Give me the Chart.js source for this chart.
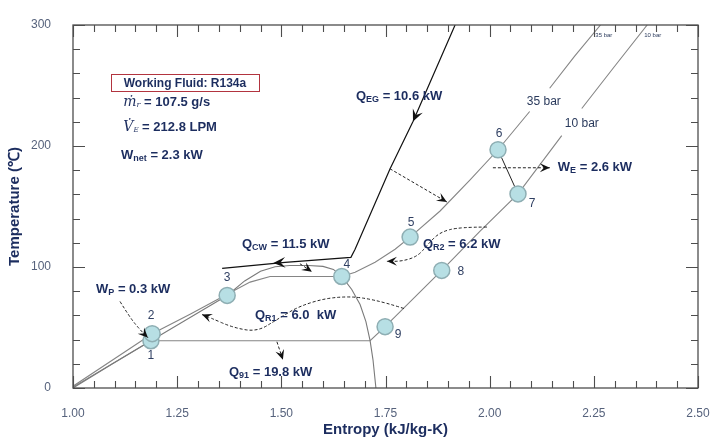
<!DOCTYPE html>
<html>
<head>
<meta charset="utf-8">
<script src="https://cdn.jsdelivr.net/npm/chart.js@4.4.0/dist/chart.umd.min.js"></script>
<style>
html, body { margin: 0; background: #fff; }
#wrap { width: 724px; height: 446px; }
</style>
</head>
<body>
<div id="wrap"><canvas id="chart"></canvas></div>
<script>
'use strict';

// saturation dome (entropy kJ/kg-K, temperature C)
const domeS = [1.000, 1.094, 1.187, 1.281, 1.370, 1.412, 1.450, 1.485, 1.520, 1.565, 1.600, 1.625, 1.645, 1.669, 1.689, 1.703, 1.713, 1.720, 1.727];
const domeT = [0, 19.9, 39.1, 58.2, 76.5, 88.5, 96.5, 100.2, 101.2, 101.3, 100.5, 98.0, 92.2, 81.4, 69.0, 54.8, 39.1, 23.3, 0];

// 35 bar isobar (null = gap for the label)
const p35S = [1.000, 1.190, 1.281, 1.370, 1.425, 1.473, 1.645, 1.677, 1.725, 1.773, 1.809, 1.881, 1.953, 2.020, 2.096, 2.120, 2.144, 2.204, 2.266];
const p35T = [1.5, 44.9, 61.0, 77.5, 87.5, 92.2, 92.2, 95.6, 103.9, 114.7, 124.7, 146.3, 172.0, 196.9, 228.5, null, 247.7, 274.2, 300];

// 10 bar isobar
const p10S = [1.000, 1.187, 1.713, 1.749, 1.885, 1.977, 2.068, 2.173, 2.197, 2.221, 2.300, 2.378];
const p10T = [0.8, 39.1, 39.1, 50.7, 97.2, 129.6, 160.4, 208.6, null, 231.0, 265.9, 300];

// heat source (exhaust gas) and cooling water line
const hotS = [1.917, 1.816, 1.761, 1.677, 1.667, 1.509, 1.358];
const hotT = [300, 220.2, 181.2, 114.7, 108.0, 103.9, 98.9];

// cycle state points
const stateNames = ['1', '2', '3', '4', '5', '6', '7', '8', '9'];
const stateS = [1.187, 1.190, 1.370, 1.645, 1.809, 2.020, 2.068, 1.885, 1.749];
const stateT = [39.1, 44.9, 76.5, 92.2, 124.7, 196.9, 160.4, 97.2, 50.7];

// axis tick labels
const xTickLabels = ['1.00', '1.25', '1.50', '1.75', '2.00', '2.25', '2.50'];
const yTickLabels = ['0', '100', '200', '300'];

const FONT = '"Liberation Sans", Arial, Helvetica, sans-serif';
const NAVY = '#1c2d5f';
const B13 = 'bold 13px ' + FONT;
const S9 = 'bold 9px ' + FONT;

function pts(xs, ys) {
    return xs.map((x, i) => ({x: x, y: ys[i]}));
}

// offsets (px) of the state numbers from their circles
const stateLabelOff = [[0, 15], [-1, -18], [0, -18], [5, -12], [1, -14], [1, -16], [14, 10], [19, 1], [13, 8]];

// dashed heat-flow arrows, in data units
const flows = [
    {s: [1.7606, 1.8973], t: [181.2, 153.7]},
    {s: [2.0077, 2.1444], t: [182, 182]},
    {s: [1.9933, 1.9285, 1.8805, 1.8517, 1.8277, 1.7894, 1.7534], t: [133, 133, 128.8, 118.8, 108.9, 104.7, 104.7]},
    {s: [1.7942, 1.7126, 1.6238, 1.5446, 1.4894, 1.4415, 1.3839, 1.3287, 1.3095], t: [65.7, 74.8, 75.6, 68.1, 56.5, 46.5, 49.9, 58.2, 60.7]},
    {s: [1.1128, 1.1368, 1.1607, 1.1799], t: [71.5, 58.2, 48.2, 41.6]},
    {s: [1.4894, 1.5038], t: [38.2, 23.3]},
    {s: [1.5446, 1.5734], t: [102.7, 96.1]},
];

// labels: [s, T, parts]
const labels = [
    [1.679, 241, [['Q', B13], ['EG', S9, 3], [' = 10.6 kW', B13]]],
    [2.1636, 182, [['W', B13], ['E', S9, 3], [' = 2.6 kW', B13]]],
    [1.8397, 118.8, [['Q', B13], ['R2', S9, 3], [' = 6.2 kW', B13]]],
    [1.4055, 118.8, [['Q', B13], ['CW', S9, 3], [' = 11.5 kW', B13]]],
    [1.4367, 59.8, [['Q', B13], ['R1', S9, 3], [' = 6.0  kW', B13]]],
    [1.3743, 12.5, [['Q', B13], ['91', S9, 3], [' = 19.8 kW', B13]]],
    [1.0552, 81.4, [['W', B13], ['P', S9, 3], [' = 0.3 kW', B13]]],
    [1.1207, 236.1, [['\u1E41', 'italic 14px "DejaVu Serif", serif'], ['r', 'italic 8px "DejaVu Serif", serif', 3], [' = 107.5 g/s', B13]]],
    [1.1207, 215.2, [['V\u0307', 'italic 14px "DejaVu Serif", serif'], ['E', 'italic 7px "DejaVu Serif", serif', 3], [' = 212.8 LPM', B13]]],
    [1.1152, 192, [['W', B13], ['net', S9, 3], [' = 2.3 kW', B13]]],
];

function richText(c, x, y, parts) {
    let cx = x;
    parts.forEach(p => {
        c.font = p[1];
        c.fillText(p[0], cx, y + (p[2] || 0));
        cx += c.measureText(p[0]).width;
    });
}

function arrowHead(c, x, y, fx, fy, size) {
    const a = Math.atan2(y - fy, x - fx);
    const cs = Math.cos(a), sn = Math.sin(a);
    c.save();
    c.setLineDash([]);
    c.beginPath();
    c.moveTo(x, y);
    c.lineTo(x - size * cs + size * 0.45 * sn, y - size * sn - size * 0.45 * cs);
    c.lineTo(x - size * 0.6 * cs, y - size * 0.6 * sn);
    c.lineTo(x - size * cs - size * 0.45 * sn, y - size * sn + size * 0.45 * cs);
    c.closePath();
    c.fill();
    c.restore();
}

function smoothPath(c, p) {
    c.beginPath();
    c.moveTo(p[0].x, p[0].y);
    for (let i = 1; i < p.length - 1; i++) {
        const mx = (p[i].x + p[i + 1].x) / 2, my = (p[i].y + p[i + 1].y) / 2;
        c.quadraticCurveTo(p[i].x, p[i].y, mx, my);
    }
    c.lineTo(p[p.length - 1].x, p[p.length - 1].y);
    c.stroke();
}

const frameTicks = {
    id: 'frameTicks',
    afterDraw(chart) {
        const c = chart.ctx, a = chart.chartArea, x = chart.scales.x, y = chart.scales.y;
        c.save();
        c.strokeStyle = '#4d4d4d';
        c.lineWidth = 1.3;
        c.strokeRect(a.left, a.top, a.right - a.left, a.bottom - a.top);
        c.lineWidth = 1.1;
        c.beginPath();
        x.ticks.forEach(tk => {
            const px = Math.round(x.getPixelForValue(tk.value)) + 0.5;
            const len = tk.label ? 12 : 7;
            c.moveTo(px, a.bottom); c.lineTo(px, a.bottom - len);
            c.moveTo(px, a.top); c.lineTo(px, a.top + len);
        });
        y.ticks.forEach(tk => {
            const py = Math.round(y.getPixelForValue(tk.value)) + 0.5;
            const len = tk.label ? 12 : 7;
            c.moveTo(a.left, py); c.lineTo(a.left + len, py);
            c.moveTo(a.right, py); c.lineTo(a.right - len, py);
        });
        c.stroke();
        c.restore();
    }
};

const annotations = {
    id: 'annotations',
    afterDatasetsDraw(chart) {
        const c = chart.ctx, x = chart.scales.x, y = chart.scales.y;
        const P = (s, t) => ({x: x.getPixelForValue(s), y: y.getPixelForValue(t)});
        c.save();

        // dashed heat flow arrows
        c.strokeStyle = '#222';
        c.fillStyle = '#111';
        c.lineWidth = 1;
        c.setLineDash([3, 2]);
        flows.forEach(f => {
            const p = f.s.map((s, i) => P(s, f.t[i]));
            smoothPath(c, p);
            const e = p[p.length - 1], b = p[p.length - 2];
            arrowHead(c, e.x, e.y, b.x, b.y, 10);
        });
        c.setLineDash([]);

        // arrows on the heat source line
        const a1 = P(hotS[1], hotT[1]), a1b = P(hotS[0], hotT[0]);
        arrowHead(c, a1.x, a1.y, a1b.x, a1b.y, 12);
        const a2 = P(1.50, 103.8), a2b = P(hotS[5], hotT[5]);
        arrowHead(c, a2.x - 8, a2.y + 0.5, a2b.x, a2b.y, 12);

        // state numbers
        c.fillStyle = '#2f3f62';
        c.font = '12px ' + FONT;
        c.textAlign = 'center';
        c.textBaseline = 'middle';
        stateNames.forEach((n, i) => {
            const p = P(stateS[i], stateT[i]);
            c.fillText(n, p.x + stateLabelOff[i][0], p.y + stateLabelOff[i][1]);
        });

        // isobar labels
        c.fillStyle = '#2a3a5c';
        c.font = '12px ' + FONT;
        let p = P(2.130, 236.8);
        c.fillText('35 bar', p.x, p.y);
        p = P(2.2212, 218.6);
        c.fillText('10 bar', p.x, p.y);
        c.font = '6px ' + FONT;
        p = P(2.2716, 291.7);
        c.fillText('35 bar', p.x + 1, p.y);
        p = P(2.389, 291.7);
        c.fillText('10 bar', p.x + 1, p.y);

        // info box
        const b0 = P(1.0912, 259.3), b1 = P(1.4463, 245.2);
        c.strokeStyle = '#b2343f';
        c.lineWidth = 1;
        c.strokeRect(Math.round(b0.x) + 0.5, Math.round(b0.y) + 0.5, Math.round(b1.x - b0.x), Math.round(b1.y - b0.y));
        c.fillStyle = NAVY;
        c.font = 'bold 12px ' + FONT;
        c.fillText('Working Fluid: R134a', (b0.x + b1.x) / 2, (b0.y + b1.y) / 2 + 1);

        // energy labels
        c.textAlign = 'left';
        labels.forEach(l => {
            const q = P(l[0], l[1]);
            richText(c, q.x, q.y, l[2]);
        });
        c.restore();
    }
};

const lineStyle = (data, color, w) => ({
    data: data,
    showLine: true,
    borderColor: color,
    borderWidth: w,
    pointRadius: 0,
    spanGaps: false,
    tension: 0,
    order: 2,
});

const chart = new Chart(document.getElementById('chart'), {
    type: 'scatter',
    data: {
        datasets: [
            {
                data: pts(stateS, stateT),
                pointRadius: 8,
                pointBackgroundColor: '#b7dfe4',
                pointBorderColor: '#8eaeb3',
                pointBorderWidth: 1.5,
                showLine: false,
                order: 0,
            },
            lineStyle(pts(domeS, domeT), '#7a7a7a', 1.1),
            lineStyle(pts(p35S, p35T), '#858585', 1.1),
            lineStyle(pts(p10S, p10T), '#858585', 1.1),
            lineStyle(pts(hotS, hotT), '#111111', 1.2),
            lineStyle([{x: stateS[5], y: stateT[5]}, {x: stateS[6], y: stateT[6]}], '#222222', 1),
        ]
    },
    options: {
        responsive: true,
        maintainAspectRatio: false,
        animation: false,
        layout: {padding: {top: 25, right: 26, bottom: 0, left: 0}},
        plugins: {legend: {display: false}, tooltip: {enabled: false}},
        scales: {
            x: {
                type: 'linear',
                min: 1.0,
                max: 2.5,
                afterFit: s => { s.height = 58; },
                grid: {display: false},
                border: {display: false},
                ticks: {
                    stepSize: 0.05,
                    autoSkip: false,
                    maxRotation: 0,
                    padding: 10,
                    color: '#56627c',
                    font: {family: FONT, size: 12},
                    callback: v => {
                        const i = Math.round((v - 1) * 4);
                        return Math.abs((v - 1) * 4 - i) < 1e-6 ? xTickLabels[i] : '';
                    }
                },
                title: {
                    display: true,
                    text: 'Entropy (kJ/kg-K)',
                    color: NAVY,
                    font: {family: FONT, size: 15, weight: 'bold'},
                    padding: {top: 4, bottom: 7}
                }
            },
            y: {
                type: 'linear',
                min: 0,
                max: 300,
                afterFit: s => { s.width = 73; },
                grid: {display: false},
                border: {display: false},
                ticks: {
                    stepSize: 20,
                    autoSkip: false,
                    padding: 14,
                    color: '#56627c',
                    font: {family: FONT, size: 12},
                    callback: v => (v % 100 === 0 ? yTickLabels[v / 100] : '')
                },
                title: {
                    display: true,
                    text: 'Temperature (\u2103)',
                    color: NAVY,
                    font: {family: FONT, size: 15, weight: 'bold'},
                    padding: {top: 6, bottom: 4}
                }
            }
        }
    },
    plugins: [annotations, frameTicks]
});
</script>
</body>
</html>
